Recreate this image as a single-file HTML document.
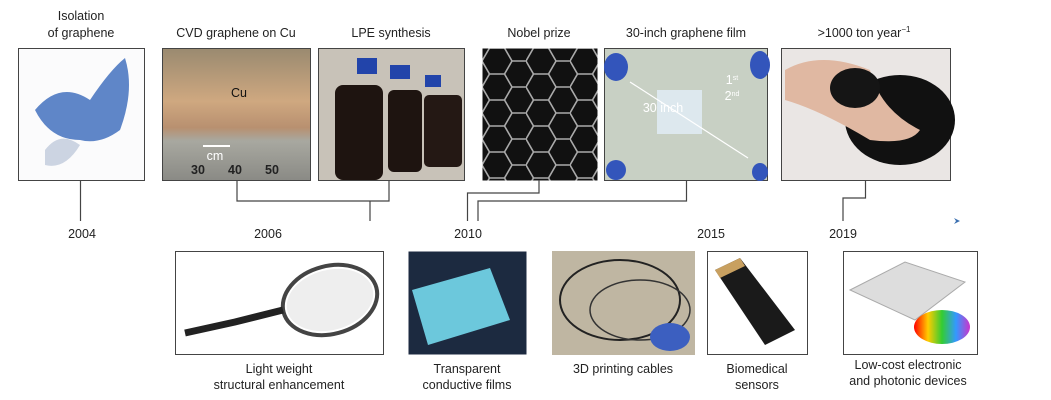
<!DOCTYPE html>
<html><head><meta charset="utf-8"><style>
body{margin:0;background:#fff;width:1051px;height:400px;overflow:hidden}
svg{display:block}
text{font-family:"Liberation Sans",Arial,sans-serif;font-size:12.5px;fill:#222;text-anchor:middle}
</style></head><body>
<svg width="1051" height="400" viewBox="0 0 1051 400">
<defs>
<pattern id="hex" width="44" height="26" patternUnits="userSpaceOnUse" x="482" y="48">
<path d="M0 13 L7.5 0 L22.5 0 L30 13 L22.5 26 L7.5 26 Z M30 13 L44 13" stroke="#aaa" stroke-width="1.6" fill="none"/>
</pattern>
<linearGradient id="cu" x1="0" y1="0" x2="0" y2="1"><stop offset="0" stop-color="#9a8a70"/><stop offset=".4" stop-color="#cfa880"/><stop offset=".6" stop-color="#b89070"/><stop offset=".7" stop-color="#a8a8a0"/><stop offset="1" stop-color="#8a8a85"/></linearGradient>
<linearGradient id="rb" x1="0" x2="1"><stop offset="0" stop-color="#f00"/><stop offset=".25" stop-color="#fc0"/><stop offset=".5" stop-color="#3c3"/><stop offset=".75" stop-color="#39f"/><stop offset="1" stop-color="#c3c"/></linearGradient>
</defs>

<text x="81" y="20">Isolation</text>
<text x="81" y="37">of graphene</text>
<text x="236" y="37">CVD graphene on Cu</text>
<text x="391" y="37">LPE synthesis</text>
<text x="539" y="37">Nobel prize</text>
<text x="686" y="37">30-inch graphene film</text>
<text x="864" y="37">&gt;1000 ton year<tspan dy="-5" font-size="8">−1</tspan></text>

<rect x="18.5" y="48.5" width="126" height="132" fill="#fbfbfc" stroke="#444"/>
<path d="M35 110 Q60 80 90 100 Q110 70 125 58 Q135 90 120 130 Q100 145 80 140 Q50 140 35 110Z" fill="#5f86c8"/>
<path d="M45 150 Q60 130 80 145 Q65 170 45 165Z" fill="#ccd4e2"/>
<rect x="162.5" y="48.5" width="148" height="132" fill="url(#cu)" stroke="#444"/>
<text x="239" y="97" style="fill:#111">Cu</text>
<text x="215" y="160" style="fill:#fff">cm</text>
<path d="M203 146 H230" stroke="#fff" stroke-width="2"/>
<text x="198" y="174" style="fill:#222;font-weight:bold" font-size="11">30</text><text x="235" y="174" style="fill:#222;font-weight:bold" font-size="11">40</text><text x="272" y="174" style="fill:#222;font-weight:bold" font-size="11">50</text>
<rect x="318.5" y="48.5" width="146" height="132" fill="#c8c2b8" stroke="#444"/>
<rect x="335" y="85" width="48" height="95" rx="8" fill="#1e1410"/><rect x="357" y="58" width="20" height="16" fill="#2244aa"/>
<rect x="388" y="90" width="34" height="82" rx="6" fill="#1e1410"/><rect x="390" y="65" width="20" height="14" fill="#2244aa"/>
<rect x="424" y="95" width="38" height="72" rx="5" fill="#241814"/><rect x="425" y="75" width="16" height="12" fill="#2244aa"/>
<rect x="482.5" y="48.5" width="115" height="132" fill="#111"/>
<rect x="482.5" y="48.5" width="115" height="132" fill="url(#hex)"/>
<rect x="604.5" y="48.5" width="163" height="132" fill="#c8d0c4" stroke="#444"/>
<rect x="657" y="90" width="45" height="44" fill="#dde8ee"/>
<path d="M630 82 L748 158" stroke="#fff" stroke-width="1.2"/>
<text x="663" y="112" style="fill:#fff" font-size="13">30 inch</text>
<text x="732" y="84" style="fill:#fff">1<tspan dy="-4" font-size="7">st</tspan></text>
<text x="732" y="100" style="fill:#fff">2<tspan dy="-4" font-size="7">nd</tspan></text>
<ellipse cx="616" cy="67" rx="12" ry="14" fill="#3355bb"/><ellipse cx="760" cy="65" rx="10" ry="14" fill="#3355bb"/>
<ellipse cx="616" cy="170" rx="10" ry="10" fill="#3355bb"/><ellipse cx="760" cy="172" rx="8" ry="9" fill="#3355bb"/>
<rect x="781.5" y="48.5" width="169" height="132" fill="#eae6e4" stroke="#444"/>
<ellipse cx="900" cy="120" rx="55" ry="45" fill="#111"/>
<path d="M785 70 Q820 50 870 70 Q880 110 920 130 Q910 145 870 140 Q820 110 785 100Z" fill="#e0b8a2"/>
<ellipse cx="855" cy="88" rx="25" ry="20" fill="#151515"/>

<g stroke="#444" stroke-width="1.2" fill="none">
<path d="M80.5 180 V221"/>
<path d="M237 180 V201 H389 V180 M370 201 V221"/>
<path d="M539 180 V193 H467.5 V221"/>
<path d="M686.5 180 V201 H478 V221"/>
<path d="M865.5 180 V198 H843 V221"/>
</g>
<path d="M954 218 L960 221 L954 224 L956 221Z" fill="#3a6fb0"/>

<text x="82" y="238">2004</text>
<text x="268" y="238">2006</text>
<text x="468" y="238">2010</text>
<text x="711" y="238">2015</text>
<text x="843" y="238">2019</text>

<rect x="175.5" y="251.5" width="208" height="103" fill="#fff" stroke="#444"/>
<ellipse cx="330" cy="300" rx="48" ry="34" transform="rotate(-15 330 300)" fill="none" stroke="#444" stroke-width="4"/>
<ellipse cx="330" cy="300" rx="44" ry="30" transform="rotate(-15 330 300)" fill="#eee"/>
<path d="M185 333 L235 322 L283 310" stroke="#222" stroke-width="7"/>
<rect x="408.5" y="251.5" width="118" height="103" fill="#1c2a40"/>
<path d="M412 290 L490 268 L510 320 L428 345Z" fill="#6cc8dc"/>
<rect x="552" y="251" width="143" height="104" fill="#bfb6a2"/>
<ellipse cx="620" cy="300" rx="60" ry="40" fill="none" stroke="#222" stroke-width="2"/>
<ellipse cx="640" cy="310" rx="50" ry="30" fill="none" stroke="#333" stroke-width="1.5"/>
<ellipse cx="670" cy="337" rx="20" ry="14" fill="#3c5fc0"/>
<rect x="707.5" y="251.5" width="100" height="103" fill="#fff" stroke="#444"/>
<path d="M715 270 L740 258 L795 330 L765 345Z" fill="#1a1a1a"/>
<path d="M715 270 L740 258 L745 266 L720 278Z" fill="#c8a060"/>
<rect x="843.5" y="251.5" width="134" height="103" fill="#fff" stroke="#444"/>
<path d="M850 290 L905 262 L965 282 L915 320Z" fill="#ddd" stroke="#aaa"/>
<ellipse cx="942" cy="327" rx="28" ry="17" fill="url(#rb)"/>

<text x="279" y="373">Light weight</text>
<text x="279" y="389">structural enhancement</text>
<text x="467" y="373">Transparent</text>
<text x="467" y="389">conductive films</text>
<text x="623" y="373">3D printing cables</text>
<text x="757" y="373">Biomedical</text>
<text x="757" y="389">sensors</text>
<text x="908" y="369">Low-cost electronic</text>
<text x="908" y="385">and photonic devices</text>
</svg>
</body></html>
